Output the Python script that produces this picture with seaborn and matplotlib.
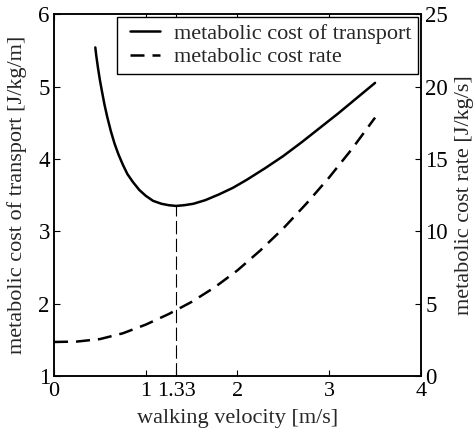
import matplotlib
matplotlib.use("Agg")
import matplotlib.pyplot as plt
from matplotlib.legend_handler import HandlerLine2D
import seaborn as sns

# Metabolic cost of transport (left axis), J/kg/m
velocity_cot = [0.45, 0.46, 0.47, 0.48, 0.50, 0.52, 0.55, 0.58, 0.62, 0.66,
                0.70, 0.75, 0.80, 0.86, 0.93, 1.00, 1.08, 1.17, 1.25, 1.33,
                1.42, 1.52, 1.65, 1.80, 1.95, 2.10, 2.30, 2.50, 2.70, 2.90,
                3.10, 3.30, 3.50]
cost_of_transport = [5.54, 5.43, 5.34, 5.25, 5.09, 4.95, 4.75, 4.58, 4.38, 4.21,
                     4.07, 3.92, 3.79, 3.68, 3.57, 3.49, 3.42, 3.38, 3.36, 3.35,
                     3.36, 3.38, 3.43, 3.51, 3.60, 3.71, 3.87, 4.04, 4.23, 4.43,
                     4.63, 4.84, 5.05]

# Metabolic cost rate (right axis), J/kg/s
velocity_rate = [0.0, 0.25, 0.50, 0.75, 1.00, 1.25, 1.50, 1.75, 2.00, 2.25,
                 2.50, 2.75, 3.00, 3.25, 3.50]
cost_rate = [2.35, 2.38, 2.55, 2.95, 3.55, 4.28, 5.12, 6.12, 7.30, 8.68,
             10.20, 11.90, 13.72, 15.70, 17.85]

optimal_velocity = 1.33
x_ticks = [0, 1, 1.33, 2, 3, 4]
x_tick_labels = ["0", "1", "1.33", "2", "3", "4"]
left_ticks = [1, 2, 3, 4, 5, 6]
right_ticks = [0, 5, 10, 15, 20, 25]

sns.set_style("ticks", {"xtick.direction": "in", "ytick.direction": "in",
                        "axes.edgecolor": "black"})
plt.rcParams["font.family"] = ["Liberation Serif", "DejaVu Serif"]
plt.rcParams["font.size"] = 16

fig = plt.figure(figsize=(4.74, 4.36), dpi=100)
ax = fig.add_axes([0.114, 0.1376, 0.774, 0.830])
ax2 = ax.twinx()

sns.lineplot(x=velocity_cot, y=cost_of_transport, ax=ax, color="black",
             linewidth=1.8, legend=False, sort=False)
sns.lineplot(x=velocity_rate, y=cost_rate, ax=ax2, color="black",
             linewidth=1.8, legend=False, sort=False)
line_cot = ax.lines[0]
line_rate = ax2.lines[0]
line_rate.set_linestyle((0, (5.6, 3.2)))
line_cot.set_label("metabolic cost of transport")
line_rate.set_label("metabolic cost rate")

# marker of the optimal walking velocity
ax.plot([optimal_velocity, optimal_velocity], [1, min(cost_of_transport)],
        color="black", linewidth=0.8, linestyle=(0, (12, 4)))

ax.set_xlim(0, 4)
ax.set_ylim(1, 6)
ax2.set_ylim(0, 25)
ax.set_xticks(x_ticks)
ax.set_xticklabels(x_tick_labels)
ax.set_yticks(left_ticks)
ax2.set_yticks(right_ticks)

for a in (ax, ax2):
    for s in a.spines.values():
        s.set_visible(True)
        s.set_linewidth(1.1)
        s.set_color("black")
ax.tick_params(axis="x", which="both", direction="in", top=True, bottom=True,
               length=4, width=0.8, labelsize=16, pad=4, colors="black")
ax.tick_params(axis="y", direction="in", left=True, right=False,
               length=4, width=0.8, labelsize=16.5, pad=3, colors="black")
ax2.tick_params(axis="y", direction="in", right=True, left=False,
                length=4, width=0.8, labelsize=16.5, pad=3, colors="black")

ax.set_xlabel("walking velocity [m/s]", fontsize=16, labelpad=6)
ax.set_ylabel("metabolic cost of transport [J/kg/m]", fontsize=16, labelpad=8)
ax2.set_ylabel("metabolic cost rate [J/kg/s]", fontsize=16, labelpad=5)

leg = ax2.legend(handles=[line_cot, line_rate], loc="upper right",
                 frameon=True, fancybox=False, framealpha=1,
                 edgecolor="black", fontsize=16, borderaxespad=0.15,
                 borderpad=0.28, handlelength=1.65, handletextpad=0.62,
                 labelspacing=0.12,
                 handler_map={line_cot: HandlerLine2D(xpad=0.3),
                              line_rate: HandlerLine2D(xpad=0.3)})
leg.get_frame().set_linewidth(1.0)

fig.savefig("out.png", dpi=100)
